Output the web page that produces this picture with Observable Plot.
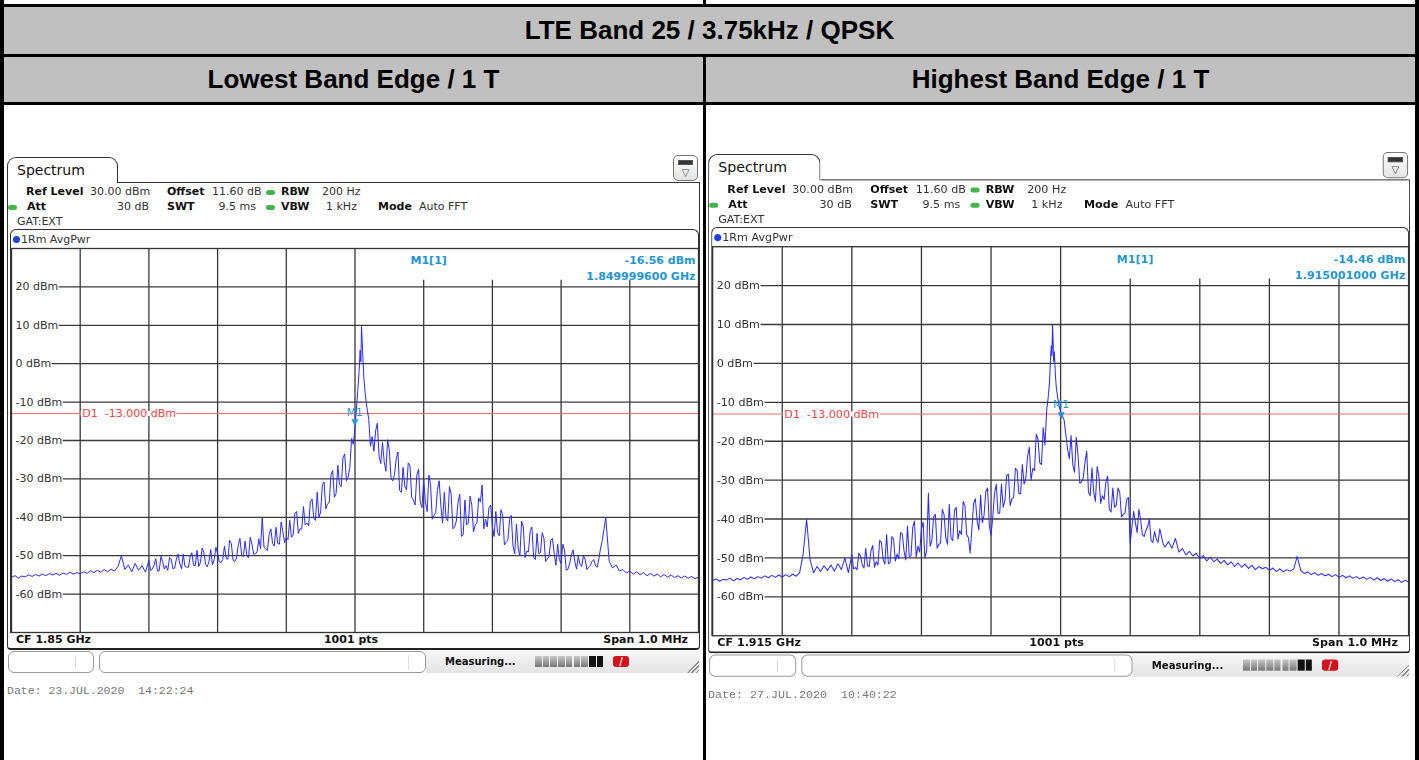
<!DOCTYPE html>
<html><head><meta charset="utf-8">
<script src="https://cdn.jsdelivr.net/npm/d3@7"></script>
<script src="https://cdn.jsdelivr.net/npm/@observablehq/plot@0.6"></script>
<style>
html,body{margin:0;padding:0;background:#fff}
body{position:relative;width:1419px;height:760px;overflow:hidden;font-family:"Liberation Sans",Arial,sans-serif}
.a{position:absolute;box-sizing:border-box}
.hdr{position:absolute;display:flex;align-items:center;justify-content:center;background:#c0c0c0;font-weight:bold;font-size:26px;color:#000;font-family:"Liberation Sans",Arial,sans-serif}
</style></head><body>
<script>
// ---------- DATA ----------
const titleText = "LTE Band 25 / 3.75kHz / QPSK";
const columnTitles = ["Lowest Band Edge / 1 T", "Highest Band Edge / 1 T"];

// frequency offset from centre (kHz), 5 kHz bins over the 1.0 MHz span
const binStartKHz = -500, binStepKHz = 5;
const yTicks = [20, 10, 0, -10, -20, -30, -40, -50, -60];
const xGrid = [-400, -300, -200, -100, 0, 100, 200, 300, 400];
const d1Level = -13;

// Lowest band edge trace (dBm), bins -500..500 kHz
const lowLevels = [
-55.6,-55.2,-55.8,-55.3,-55.5,-55.0,-55.4,-54.9,-55.3,-54.8,
-55.2,-54.7,-55.0,-54.6,-55.1,-54.5,-54.9,-54.3,-54.8,-54.4,
-54.7,-54.2,-54.6,-53.9,-54.4,-53.8,-54.3,-53.6,-54.2,-53.5,
-54.0,-52.8,-50.0,-53.6,-52.4,-54.2,-52.0,-53.8,-52.6,-54.3,
-51.2,-53.5,-50.8,-53.9,-51.5,-52.6,-50.5,-53.4,-50.9,-52.2,
-49.6,-53.0,-50.3,-52.5,-48.6,-51.8,-49.2,-52.9,-48.4,-51.0,
-49.5,-51.8,-47.5,-50.9,-46.8,-51.5,-47.4,-49.8,-46.2,-50.6,
-47.0,-49.5,-45.6,-40.0,-48.2,-44.5,-46.8,-42.6,-47.0,-43.8,
-45.2,-40.8,-44.6,-38.5,-43.0,-37.2,-41.5,-36.0,-40.2,-33.5,
-38.6,-30.8,-36.5,-29.0,-34.8,-26.5,-32.0,-23.5,-29.5,-19.5,
-16.6,-5.0,9.7,-6.0,-14.5,-19.0,-17.5,-24.0,-20.5,-28.0,
-22.5,-30.5,-24.8,-33.0,-27.0,-32.8,-26.5,-35.5,-29.0,-36.0,
-30.2,-38.5,-31.5,-39.5,-32.8,-37.0,-33.5,-41.0,-34.0,-42.5,
-36.0,-45.0,-35.5,-41.5,-36.8,-42.0,-35.0,-31.6,-40.5,-37.5,
-42.5,-38.5,-44.8,-39.5,-46.5,-40.5,-47.5,-41.8,-50.0,-42.5,
-48.8,-43.5,-50.5,-44.2,-49.2,-45.5,-50.8,-46.0,-49.5,-47.0,
-52.0,-48.5,-53.5,-49.8,-51.5,-50.2,-52.8,-51.0,-53.0,-51.5,
-52.5,-50.8,-46.0,-40.0,-51.5,-53.2,-52.4,-54.0,-53.6,-54.5,
-54.0,-54.8,-54.2,-55.0,-54.4,-55.2,-54.6,-55.3,-54.8,-55.5,
-54.9,-55.6,-55.0,-55.7,-55.2,-55.8,-55.3,-55.9,-55.4,-56.0,
-55.6];
// extra in-between readings (half bins) in the busy parts of the lower trace
const lowHalfStartA = -297.5;
const lowHalfA = [
-53.8,-52.5,-54.0,-50.2,-53.5,-53.8,-51.0,-53.2,-49.6,-53.4,
-52.8,-53.0,-49.2,-52.6,-52.8,-48.0,-52.2,-51.5,-52.4,-47.8,
-51.6,-51.0,-50.8,-46.0,-51.2,-50.6,-45.5,-50.2,-49.8,-45.2,
-49.6,-49.0,-48.2,-47.8,-48.6,-43.0,-47.5,-46.8,-41.2,-46.6,
-45.8,-45.2,-39.0,-44.2,-43.0,-42.0,-42.2,-35.2,-40.8,-40.0,
-31.5,-37.8,-36.2,-27.8,-33.8,-31.5,-24.5,-30.5,-27.0,-21.0];
const lowHalfStartB = 22.5;
const lowHalfB = [
-21.5,-22.8,-15.5,-26.0,-25.5,-19.8,-30.0,-28.8,-23.0,-33.5,
-32.0,-25.8,-34.8,-36.8,-27.5,-37.5,-36.0,-29.0,-40.5,-38.8,
-30.5,-41.5,-40.2,-32.0,-43.0,-41.0,-34.0,-44.5,-42.0,-34.5,
-43.8,-41.5,-36.0,-43.0,-42.5,-36.8,-45.0,-44.0,-38.0,-47.2,
-46.0,-39.5,-49.5,-48.0,-41.0,-50.5,-49.0,-42.5,-51.0,-49.5,
-44.0,-51.5,-50.2,-45.5,-52.5,-51.0,-47.0,-53.8,-52.0,-48.5,
-53.5,-52.2,-50.0,-53.6,-52.6,-51.0,-53.0,-48.0];
const lowPeakFreq  = [2, 4, 6, 7.5, 8.5, 9.5, 10.5, 11.5, 13, 15, 17];
const lowPeakLevel = [-12, -7, -2, 3.5, 0.5, 9.7, 6, 1.5, -4, -8, -11];

// Highest band edge trace (dBm), bins -500..500 kHz
const highLevels = [
-55.8,-55.4,-56.0,-55.5,-55.7,-55.2,-55.9,-55.3,-55.6,-55.0,
-55.5,-54.9,-55.4,-54.8,-55.2,-54.6,-55.1,-54.5,-55.0,-54.4,
-54.9,-54.3,-54.8,-54.2,-54.7,-53.8,-49.0,-40.1,-50.5,-53.8,
-52.2,-53.5,-52.0,-53.2,-51.8,-53.4,-51.5,-53.0,-50.0,-53.8,
-49.2,-52.5,-48.8,-51.8,-47.5,-52.2,-46.8,-51.0,-45.5,-50.5,
-44.0,-51.2,-45.2,-49.0,-43.5,-48.2,-41.8,-49.5,-40.5,-47.0,
-42.5,-50.0,-33.3,-45.5,-38.8,-46.5,-37.5,-44.8,-36.2,-45.5,
-37.0,-43.0,-35.5,-44.0,-48.8,-36.0,-40.5,-33.8,-39.0,-32.0,
-44.2,-33.5,-38.5,-31.0,-35.2,-28.5,-34.8,-27.0,-33.5,-26.0,
-29.5,-21.5,-27.0,-18.2,-25.5,-16.5,-12.0,-2.0,5.0,-4.0,
-12.5,-14.5,-22.0,-18.5,-28.0,-23.5,-30.5,-25.5,-33.0,-26.8,
-35.5,-29.0,-34.0,-30.5,-37.5,-32.0,-36.5,-33.2,-38.8,-35.0,
-46.2,-38.0,-43.5,-40.2,-44.5,-42.0,-45.5,-43.2,-46.0,-44.5,
-47.2,-45.8,-47.5,-45.0,-48.5,-47.6,-49.2,-48.3,-49.5,-48.8,
-50.2,-49.4,-50.8,-49.8,-51.0,-50.3,-51.4,-50.6,-51.8,-51.0,
-52.2,-51.3,-52.4,-51.6,-52.7,-51.9,-53.0,-52.2,-52.8,-52.4,
-53.2,-52.6,-53.5,-52.8,-53.6,-53.0,-53.4,-52.8,-49.6,-53.2,
-54.0,-53.6,-54.3,-53.8,-54.5,-54.0,-54.6,-54.2,-54.8,-54.3,
-55.0,-54.5,-55.1,-54.6,-55.2,-54.8,-55.4,-54.9,-55.5,-55.0,
-55.7,-55.1,-55.8,-55.3,-56.0,-55.4,-56.1,-55.6,-56.3,-55.7,
-56.2];
const highHalfStartA = -297.5;
const highHalfA = [
-52.8,-53.0,-49.5,-52.6,-52.0,-48.2,-52.4,-51.8,-46.0,-51.6,
-51.5,-44.5,-50.8,-50.2,-43.8,-50.5,-49.6,-42.2,-49.8,-48.5,
-40.8,-48.2,-47.0,-39.5,-47.5,-46.2,-38.8,-46.5,-45.0,-37.8,
-45.2,-44.0,-36.5,-44.8,-42.5,-34.8,-42.8,-41.0,-33.0,-41.5,
-39.5,-31.0,-38.5,-37.0,-28.8,-36.5,-34.5,-27.5,-33.5,-31.0,
-24.0,-30.0,-27.5,-19.5,-26.0,-21.0];
const highHalfStartB = 12.5;
const highHalfB = [
-24.5,-26.0,-19.0,-30.8,-29.5,-22.5,-34.0,-33.0,-26.5,-36.0,
-35.0,-29.0,-38.2,-37.0,-32.0,-39.5,-38.5,-34.5,-42.0,-41.0,
-37.5,-44.0,-43.0,-40.0,-46.0,-45.2,-42.5,-46.5];
const highPeakFreq  = [-18, -16, -14.5, -13.5, -12.5, -11.6, -10.8, -10, -9, -7.5, -6, -4, -2];
const highPeakLevel = [-9, -5, 1, 4.5, 2, 9.9, 6, 0.5, 3, -3, -6.5, -9, -11];

const panels = [
  {ox: 0, oy: 0, s: 1, levels: lowLevels, halves: [[lowHalfStartA, lowHalfA], [lowHalfStartB, lowHalfB]],
   peakF: lowPeakFreq, peakL: lowPeakLevel, peakRange: [0, 20],
   markerF: -0.4, markerL: -16.56, mLevel: "-16.56 dBm", mFreq: "1.849999600 GHz",
   cf: "CF 1.85 GHz", date: "Date: 23.JUL.2020  14:22:24"},
  {ox: 700.7, oy: -5, s: 1.013, levels: highLevels, halves: [[highHalfStartA, highHalfA], [highHalfStartB, highHalfB]],
   peakF: highPeakFreq, peakL: highPeakLevel, peakRange: [-20, 0],
   markerF: 1, markerL: -14.46, mLevel: "-14.46 dBm", mFreq: "1.915001000 GHz",
   cf: "CF 1.915 GHz", date: "Date: 27.JUL.2020  10:40:22"}
];

// ---------- TABLE ----------
function div(parent, x, y, w, h, st) {
  const d = document.createElement("div");
  d.className = "a";
  Object.assign(d.style, {left: x + "px", top: y + "px", width: w + "px", height: h + "px"}, st || {});
  parent.appendChild(d);
  return d;
}
const B = document.body;
const t1 = div(B, 4, 7, 1411, 47, {}); t1.className = "hdr"; t1.textContent = titleText;
const c1 = div(B, 4, 57, 699, 45, {}); c1.className = "hdr"; c1.textContent = columnTitles[0];
const c2 = div(B, 706, 57, 709, 45, {}); c2.className = "hdr"; c2.textContent = columnTitles[1];
div(B, 0, 0, 4, 760, {background: "#000"});
div(B, 1415, 0, 4, 760, {background: "#000"});
div(B, 0, 4, 1419, 3, {background: "#000"});
div(B, 0, 54, 1419, 3, {background: "#000"});
div(B, 0, 102, 1419, 3, {background: "#000"});
div(B, 703, 54, 3, 706, {background: "#000"});
div(B, 703, 0, 3, 5, {background: "#000"});

// ---------- PANELS ----------
function txt(parent, s, x, y, o = {}) {
  const d = document.createElement("div");
  d.textContent = s;
  Object.assign(d.style, {position: "absolute", left: x + "px", top: (y - 8) + "px", height: "16px",
    lineHeight: "16px", whiteSpace: "pre", fontFamily: o.font || '"DejaVu Sans"', fontSize: (o.size || 11) + "px",
    fontWeight: o.bold ? "bold" : "normal", color: o.color || (o.bold ? "#111" : "#333")});
  if (o.anchor === "end") d.style.transform = "translateX(-100%)";
  if (o.anchor === "middle") d.style.transform = "translateX(-50%)";
  parent.appendChild(d);
  return d;
}
const measureCtx = document.createElement("canvas").getContext("2d");
function textWidth(s, size) { measureCtx.font = `${size}px "DejaVu Sans"`; return measureCtx.measureText(s).width; }

const PW = 687, PH = 384;
const pxToKHz = px => px * 1000 / PW;

function spectrumPlot(cfg) {
  const data = [];
  cfg.levels.forEach((L, i) => {
    const f = binStartKHz + i * binStepKHz;
    if (f <= cfg.peakRange[0] || f >= cfg.peakRange[1]) data.push({f, L});
  });
  cfg.halves.forEach(([start, vals]) => vals.forEach((L, i) => data.push({f: start + i * binStepKHz, L})));
  cfg.peakF.forEach((f, i) => data.push({f, L: cfg.peakL[i]}));
  data.sort((a, b) => a.f - b.f);
  const blue = "#1f95d8";
  const grid = {stroke: "#3a3a3a", strokeWidth: 1.3};
  const label = d => `${d} dBm`;
  const d1Text = `D1  ${d1Level.toFixed(3)} dBm`;
  const d1X = -397;
  return Plot.plot({
    width: PW, height: PH, margin: 0,
    style: {background: "transparent", fontFamily: "DejaVu Sans", fontSize: "11px", overflow: "visible"},
    x: {domain: [-500, 500], axis: null},
    y: {domain: [-70, 30], axis: null},
    marks: [
      Plot.ruleX(xGrid.filter(d => d <= 0), grid),
      Plot.ruleX(xGrid.filter(d => d > 0), {...grid, y1: -70, y2: 21.7}),
      Plot.ruleY(yTicks, grid),
      // blank the grid behind the level labels
      Plot.ruleY(yTicks, {x1: -499, x2: d => -500 + pxToKHz(5 + textWidth(label(d), 11)), stroke: "white", strokeWidth: 6}),
      Plot.text(yTicks, {y: d => d, frameAnchor: "left", dx: 4, text: label, textAnchor: "start",
        fill: "#333", fontSize: 11}),
      Plot.ruleY([d1Level], {stroke: "#ff6a6a", strokeWidth: 1}),
      Plot.ruleY([d1Level], {x1: d1X - pxToKHz(1), x2: d1X + pxToKHz(textWidth(d1Text, 11) + 1), stroke: "white", strokeWidth: 5}),
      Plot.text([d1Level], {x: d1X, y: d => d, text: [d1Text], textAnchor: "start", fill: "#ff4040", fontSize: 11}),
      Plot.line(data, {x: "f", y: "L", stroke: "#2a2aff", strokeWidth: 1}),
      Plot.text([cfg.markerL], {x: cfg.markerF, y: d => d, text: ["▼"], dy: -5, fill: blue, fontSize: 9}),
      Plot.text([cfg.markerL], {x: cfg.markerF, y: d => d, text: ["M1"], dy: -15, fill: blue, fontSize: 10.5}),
      Plot.text(["M1[1]"], {frameAnchor: "top-left", text: d => d, dx: 399, dy: 8, textAnchor: "start",
        fill: blue, fontWeight: "bold", fontSize: 11}),
      Plot.text([cfg.mLevel], {frameAnchor: "top-right", text: d => d, dx: -3, dy: 8, textAnchor: "end",
        fill: blue, fontWeight: "bold", fontSize: 11}),
      Plot.text([cfg.mFreq], {frameAnchor: "top-right", text: d => d, dx: -3, dy: 24, textAnchor: "end",
        fill: blue, fontWeight: "bold", fontSize: 11}),
      Plot.frame({stroke: "#333", strokeWidth: 1.3})
    ]
  });
}

function buildPanel(cfg) {
  const p = div(B, cfg.ox, cfg.oy, 710, 760, {transform: `scale(${cfg.s})`, transformOrigin: "0 0"});
  // window frame
  div(p, 7, 182, 693, 468, {borderLeft: "1.5px solid #333", borderRight: "1.5px solid #333",
    borderBottom: "2px solid #222", borderRadius: "0 0 4px 4px"});
  div(p, 118, 181.5, 581, 1.5, {background: "#333"});
  // tab
  div(p, 7, 157, 111, 26, {border: "1.5px solid #333", borderBottom: "none", borderRadius: "9px 9px 0 0", background: "#fff"});
  txt(p, "Spectrum", 17, 170, {size: 14, color: "#111"});
  // icon
  div(p, 673, 155, 25, 26, {border: "1px solid #777", borderRadius: "5px", background: "linear-gradient(#fff,#e4e4e4)"});
  div(p, 678, 160, 15, 5, {background: "#333", border: "1px solid #555"});
  txt(p, "▽", 685.5, 173, {size: 10, anchor: "middle", color: "#444"});
  // settings
  const dot = (x, y) => div(p, x, y - 2.5, 9, 5, {background: "#44b54a", borderRadius: "3px"});
  txt(p, "Ref Level", 26, 192, {bold: true});
  txt(p, "30.00 dBm", 90, 192);
  txt(p, "Offset", 167, 192, {bold: true});
  txt(p, "11.60 dB", 212, 192);
  dot(266, 192);
  txt(p, "RBW", 281, 192, {bold: true});
  txt(p, "200 Hz", 322, 192);
  dot(8, 207);
  txt(p, "Att", 27, 207, {bold: true});
  txt(p, "30 dB", 149, 207, {anchor: "end"});
  txt(p, "SWT", 167, 207, {bold: true});
  txt(p, "9.5 ms", 256, 207, {anchor: "end"});
  dot(266, 207);
  txt(p, "VBW", 281, 207, {bold: true});
  txt(p, "1 kHz", 326, 207);
  txt(p, "Mode", 378, 207, {bold: true});
  txt(p, "Auto FFT", 419, 207);
  txt(p, "GAT:EXT", 17, 222);
  // trace box
  div(p, 10, 229, 689, 404, {border: "1.5px solid #333", borderBottom: "none", borderRadius: "6px 6px 0 0"});
  div(p, 12.5, 236, 7, 7, {background: "#1c3fe0", borderRadius: "50%"});
  txt(p, "1Rm AvgPwr", 21, 239.5);
  // plot
  const holder = div(p, 11, 248, PW, PH, {});
  holder.appendChild(spectrumPlot(cfg));
  // bottom bar
  txt(p, cfg.cf, 16, 640, {bold: true});
  txt(p, "1001 pts", 351, 640, {bold: true, anchor: "middle"});
  txt(p, "Span 1.0 MHz", 688, 640, {bold: true, anchor: "end"});
  // status bar
  div(p, 426, 651, 273, 22, {background: "linear-gradient(#f6f6f6,#e4e4e4)"});
  div(p, 8, 651, 86, 22, {border: "1px solid #999", borderRadius: "6px", background: "#fff"});
  div(p, 75, 655, 1, 14, {background: "#ddd"});
  div(p, 99, 651, 327, 22, {border: "1px solid #999", borderRadius: "6px", background: "#fff"});
  div(p, 408, 655, 1, 14, {background: "#ddd"});
  txt(p, "Measuring...", 445, 662, {bold: true, size: 10, color: "#111"});
  for (let i = 0; i < 9; i++) {
    div(p, 535 + i * 7.7, 656, 6.7, 11, {background: i < 7 ? "linear-gradient(#c8c8c8,#777)" : "#111"});
  }
  div(p, 613, 656, 16, 11, {background: "#d3121b", borderRadius: "3px"});
  txt(p, "/", 621, 661.5, {size: 10, bold: true, color: "#fff", anchor: "middle"});
  div(p, 687, 660, 12, 13, {background: "repeating-linear-gradient(135deg,#888 0 1px,transparent 1px 3px)",
    clipPath: "polygon(100% 0,100% 100%,0 100%)"});
  // date
  txt(p, cfg.date, 7, 691, {font: '"Liberation Mono"', size: 11.5, color: "#777"});
}
panels.forEach(buildPanel);
</script>
</body></html>
